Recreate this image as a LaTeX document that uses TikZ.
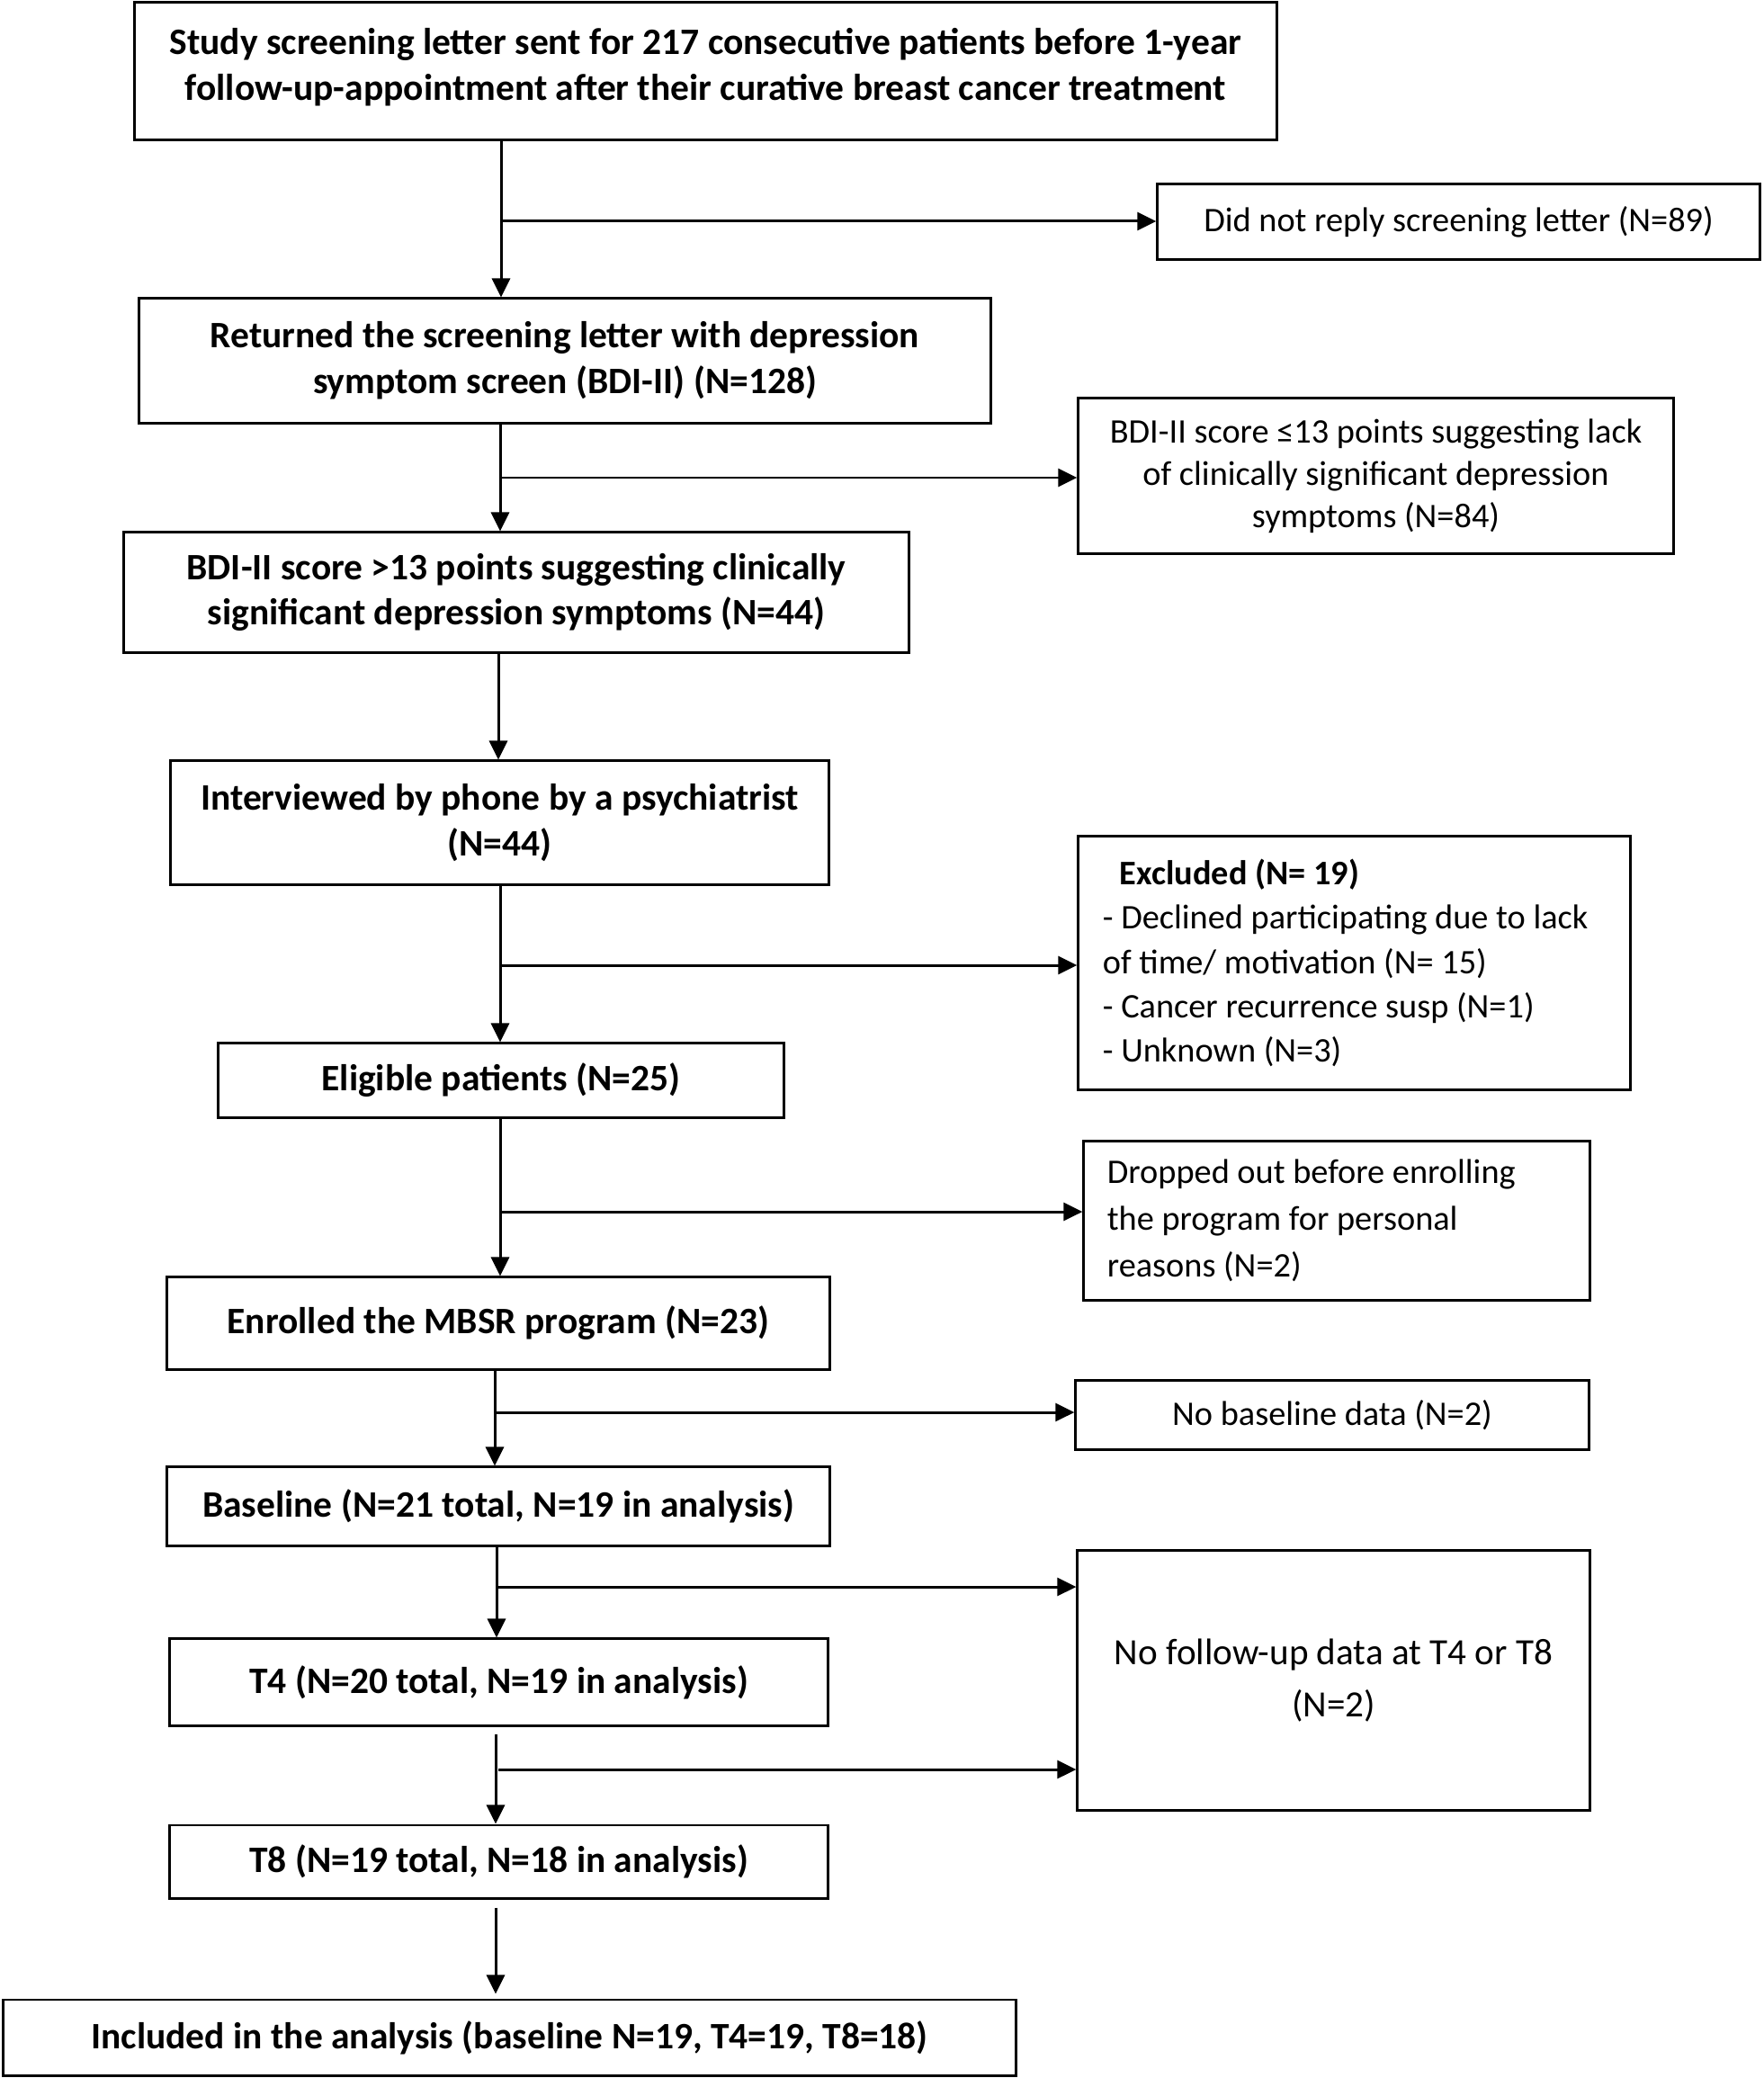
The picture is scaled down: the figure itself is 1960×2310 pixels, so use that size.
\documentclass[tikz,border=0pt]{standalone}
\usepackage{fontspec}
\setmainfont{Carlito}
\usetikzlibrary{arrows.meta}

\begin{document}
\begin{tikzpicture}[x=0.01cm,y=-0.01cm,
    flow/.style={line width=0.85pt,-{Triangle[length=2.1mm,width=2mm]}},
    side/.style={line width=0.85pt,-{Triangle[length=2.1mm,width=2mm]}}]

  \useasboundingbox (0,0) rectangle (1960,2310);

  % main column
  \begin{scope}[every node/.style={draw,line width=0.85pt,align=center,inner sep=0pt,
      font=\bfseries\fontsize{11.8}{14.4}\selectfont}]
    \node[minimum width=12.69cm,minimum height=1.52cm] (s1) at (784.5,79)
      {Study screening letter sent for 217 consecutive patients before 1-year\\follow-up-appointment after their curative breast cancer treatment\\[-0.35cm]};
    \node[minimum width=9.46cm,minimum height=1.38cm] (s2) at (628,401)
      {Returned the screening letter with depression\\symptom screen (BDI-II) (N=128)};
    \node[minimum width=8.72cm,minimum height=1.33cm] (s3) at (574,658.5)
      {BDI-II score >13 points suggesting clinically\\significant depression symptoms (N=44)};
    \node[minimum width=7.31cm,minimum height=1.37cm] (s4) at (555.5,914.5)
      {Interviewed by phone by a psychiatrist\\(N=44)};
    \node[minimum width=6.28cm,minimum height=0.82cm] (s5) at (557,1201)
      {Eligible patients (N=25)};
    \node[minimum width=7.36cm,minimum height=1.02cm] (s6) at (554,1471)
      {Enrolled the MBSR program (N=23)};
    \node[minimum width=7.36cm,minimum height=0.87cm] (s7) at (554,1674.5)
      {Baseline (N=21 total, N=19 in analysis)};
    \node[minimum width=7.31cm,minimum height=0.96cm] (s8) at (554.5,1870)
      {T4 (N=20 total, N=19 in analysis)};
    \node[minimum width=7.31cm,minimum height=0.81cm] (s9) at (554.5,2069.5)
      {T8 (N=19 total, N=18 in analysis)};
    \node[minimum width=11.25cm,minimum height=0.84cm] (s10) at (566.5,2265)
      {Included in the analysis (baseline N=19, T4=19, T8=18)};
  \end{scope}

  % side boxes
  \begin{scope}[every node/.style={draw,line width=0.85pt,align=center,inner sep=0pt,
      font=\fontsize{10.9}{14.4}\selectfont}]
    \node[minimum width=6.69cm,minimum height=0.83cm] (norep) at (1621.5,246.5)
      {Did not reply screening letter (N=89)};
    \node[minimum width=6.61cm,minimum height=1.72cm,font=\fontsize{10.9}{13.4}\selectfont] (le13) at (1529.5,529)
      {BDI-II score ≤13 points suggesting lack\\of clinically significant depression\\symptoms (N=84)};
    \node[minimum width=6.13cm,minimum height=2.81cm,align=flush left,text width=5.59cm,inner xsep=0.27cm,
        font=\fontsize{10.9}{14}\selectfont] (excl) at (1505.5,1070.5)
      {\hspace*{0.19cm}\textbf{Excluded (N= 19)}\\- Declined participating due to lack\\of time/ motivation (N= 15)\\- Cancer recurrence susp (N=1)\\- Unknown (N=3)};
    \node[minimum width=5.62cm,minimum height=1.76cm,align=flush left,text width=5.1cm,inner xsep=0.26cm,
        font=\fontsize{10.9}{14.8}\selectfont] (drop) at (1486,1357)
      {Dropped out before enrolling\\the program for personal\\reasons (N=2)};
    \node[minimum width=5.70cm,minimum height=0.76cm] (nobase) at (1481,1573)
      {No baseline data (N=2)};
    \node[minimum width=5.69cm,minimum height=2.88cm,font=\fontsize{11.7}{16.4}\selectfont] (nofu) at (1482.5,1868)
      {No follow-up data at T4 or T8\\(N=2)};
  \end{scope}

  % trunk and branch points
  \coordinate (t1) at (557,0);
  \coordinate (t2) at (556,0);
  \coordinate (t3) at (554,0);
  \coordinate (t4) at (556,0);
  \coordinate (t5) at (556,0);
  \coordinate (t6) at (550,0);
  \coordinate (t7) at (552,0);
  \coordinate (t8) at (551,0);
  \coordinate (t9) at (551,0);

  \coordinate (b1) at (557,246);
  \coordinate (b2) at (556,531);
  \coordinate (b3) at (556,1073);
  \coordinate (b4) at (556,1347);
  \coordinate (b5) at (550,1570);
  \coordinate (b6) at (552,1764);
  \coordinate (b7) at (554,1967);

  \draw[flow] (s1.south -| t1) -- (s2.north -| t1);
  \draw[flow] (s2.south -| t2) -- (s3.north -| t2);
  \draw[flow] (s3.south -| t3) -- (s4.north -| t3);
  \draw[flow] (s4.south -| t4) -- (s5.north -| t4);
  \draw[flow] (s5.south -| t5) -- (s6.north -| t5);
  \draw[flow] (s6.south -| t6) -- (s7.north -| t6);
  \draw[flow] (s7.south -| t7) -- (s8.north -| t7);
  \draw[flow,shorten <=0.08cm] (s8.south -| t8) -- (s9.north -| t8);
  \draw[flow,shorten <=0.09cm,shorten >=0.05cm] (s9.south -| t9) -- (s10.north -| t9);

  \draw[side] (b1) -- (b1 -| norep.west);
  \draw[side] (b2) -- (b2 -| le13.west);
  \draw[side] (b3) -- (b3 -| excl.west);
  \draw[side] (b4) -- (b4 -| drop.west);
  \draw[side] (b5) -- (b5 -| nobase.west);
  \draw[side] (b6) -- (b6 -| nofu.west);
  \draw[side] (b7) -- (b7 -| nofu.west);

\end{tikzpicture}
\end{document}
